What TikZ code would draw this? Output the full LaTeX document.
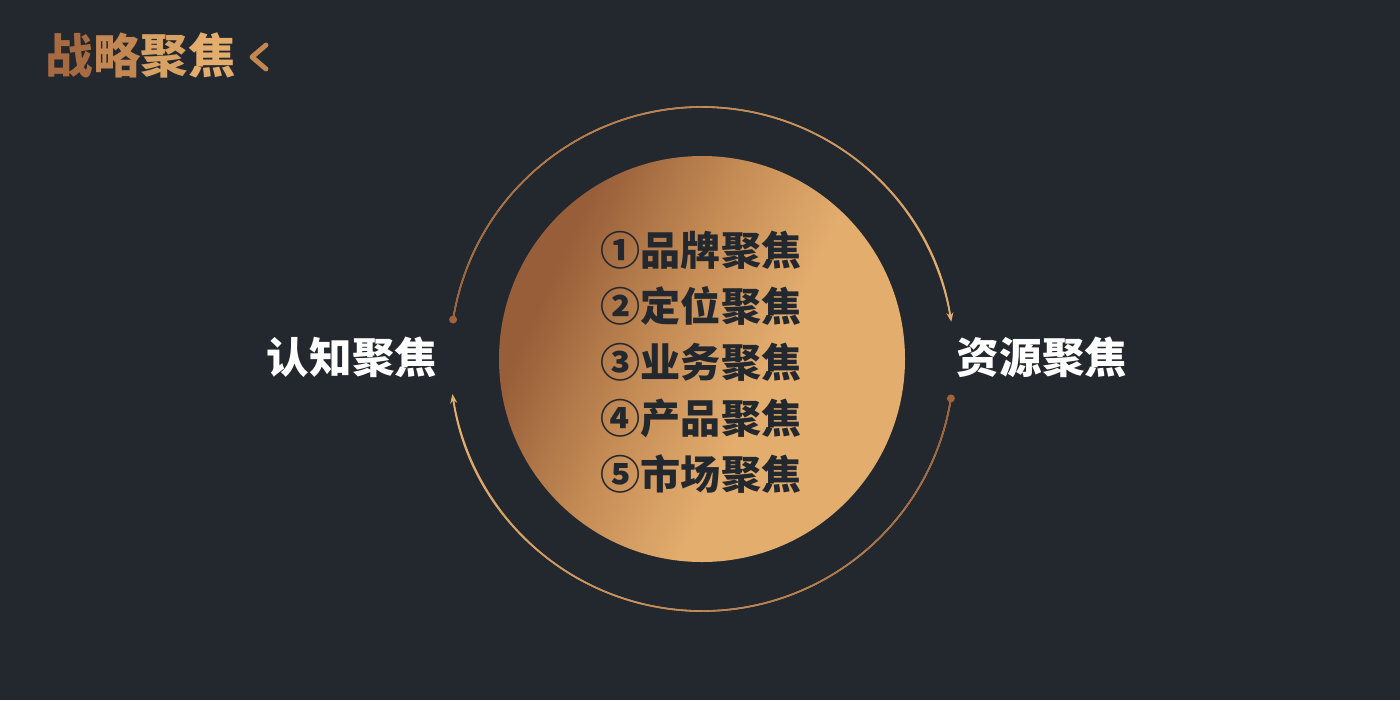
\documentclass[tikz,border=0pt]{standalone}
\usepackage{fontspec}
\usepackage{xcolor}
\usepackage{tikz}
\usetikzlibrary{arrows.meta, positioning}
\newfontfamily\cjk{Noto Sans CJK SC}

\definecolor{bgdark}{HTML}{23272E}
\definecolor{arcdark}{HTML}{9E633C}
\definecolor{arclight}{HTML}{E3AD6E}
\definecolor{coredark}{HTML}{975E39}
\definecolor{coremid}{HTML}{C48B55}
\definecolor{corelight}{HTML}{E3AD6E}
\definecolor{tone1}{HTML}{A76B42}
\definecolor{tone2}{HTML}{C28753}
\definecolor{tone3}{HTML}{D9A265}
\definecolor{tone4}{HTML}{E3AD6E}

\pgfdeclarehorizontalshading{corefill}{100bp}{color(0bp)=(coredark); color(29bp)=(coredark); color(44bp)=(coremid); color(58bp)=(corelight); color(100bp)=(corelight)}

\tikzset{
    ring/.style={line width=0.45pt},
    sidelabel/.style={text=white, font=\cjk\bfseries\fontsize{12.1pt}{14pt}\selectfont},
    itemlabel/.style={text=bgdark, inner sep=0pt, font=\cjk\bfseries\fontsize{11.4pt}{13pt}\selectfont},
}

\begin{document}
\begin{tikzpicture}[>={Stealth[length=2.6pt,width=2pt]}]
    % Background
    \fill[bgdark] (0,0) rectangle (14,7);
    \useasboundingbox (0,0) rectangle (14,7);

    % Title
    \node[anchor=west, inner sep=0pt, font=\cjk\bfseries\fontsize{13.5pt}{16pt}\selectfont] (title) at (0.45,6.45)
        {\textcolor{tone1}{战}\textcolor{tone2}{略}\textcolor{tone3}{聚}\textcolor{tone4}{焦}};
    \draw[tone2, line width=1.4pt, line cap=round, line join=round] (2.66,6.55) -- (2.52,6.43) -- (2.66,6.31);

    % Core circle
    \node[circle, minimum size=4.06cm, inner sep=0pt, shade, shading=corefill, shading angle=-25] (core) at (7.02,3.41) {};

    % Items
    \foreach \t [count=\i] in {①品牌聚焦, ②定位聚焦, ③业务聚焦, ④产品聚焦, ⑤市场聚焦}
        \node[itemlabel] (item\i) at (7.01, {5.06-\i*0.56}) {\t};

    % Side labels
    \node[sidelabel] (renzhi) at (3.52,3.43) {认知聚焦};
    \node[sidelabel] (ziyuan) at (10.42,3.43) {资源聚焦};

    % Arc ends
    \coordinate (topS) at ([shift={(171:2.52)}]core.center);
    \coordinate (botS) at ([shift={(-9:2.52)}]core.center);

    % Arcs
    \draw[ring, arclight, ->] (topS) arc[start angle=171, end angle=8.5, radius=2.52];
    \draw[ring, arclight, ->] (botS) arc[start angle=-9, end angle=-172, radius=2.52];
    \foreach \i in {0,...,11} {
        \pgfmathsetmacro\s{171-\i*13.5}
        \pgfmathsetmacro\e{\s-13.5}
        \pgfmathtruncatemacro\p{100*\i/11}
        \draw[ring, arclight!\p!arcdark] ([shift={(\s:2.52)}]core.center) arc[start angle=\s, end angle=\e, radius=2.52];
        \pgfmathsetmacro\s{-9-\i*13.5}
        \pgfmathsetmacro\e{\s-13.5}
        \draw[ring, arclight!\p!arcdark] ([shift={(\s:2.52)}]core.center) arc[start angle=\s, end angle=\e, radius=2.52];
    }
    \fill[arcdark] (topS) circle (0.04);
    \fill[arcdark] (botS) circle (0.04);
\end{tikzpicture}
\end{document}
